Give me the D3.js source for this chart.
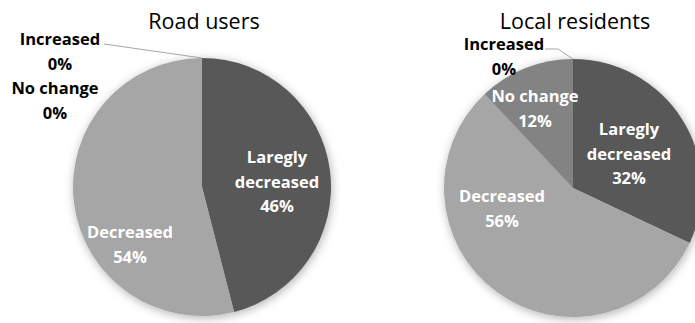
<!DOCTYPE html>
<html>
<head>
<meta charset="utf-8">
<script src="https://cdn.jsdelivr.net/npm/d3@7"></script>
<style>
  html, body { margin: 0; padding: 0; background: #fff; overflow: hidden; }
  svg { display: block; }
</style>
</head>
<body>
<svg id="chart" width="695" height="323"></svg>
<script>
// ---- data ----
const categories = ["Laregly decreased", "Decreased", "No change", "Increased"];
const chartTitles = ["Road users", "Local residents"];
const roadUsers = [46, 54, 0, 0];
const localResidents = [32, 56, 12, 0];
const seriesValues = [roadUsers, localResidents];
const colors = ["#595959", "#a6a6a6", "#838383", "#c8c8c8"];

// ---- layout (positions, not data) ----
const W = 695, H = 323;
const R = 129;
const centers = [[202, 187], [573, 188]];
const titleY = 20;
const lineH = 24.5;
// label block centres relative to pie centre, text fill, leader line
const labelLayout = [
  [ // Road users
    { dx: 75,  dy: -6,  fill: "#fff" },
    { dx: -72, dy: 57,  fill: "#fff" },
    { dx: -147, dy: -87, fill: "#000" },
    { dx: -142, dy: -136, fill: "#000", leader: [[-98, -143], [0, -129]] }
  ],
  [ // Local residents
    { dx: 56,  dy: -35, fill: "#fff" },
    { dx: -71, dy: 20,  fill: "#fff" },
    { dx: -38, dy: -80, fill: "#fff" },
    { dx: -69, dy: -132, fill: "#000", leader: [[-28, -139], [-15, -139], [0, -129]] }
  ]
];

const svg = d3.select("#chart");
const defs = svg.append("defs");
const f = defs.append("filter").attr("id", "glow")
  .attr("x", "-20%").attr("y", "-20%").attr("width", "140%").attr("height", "140%");
f.append("feDropShadow").attr("dx", 1).attr("dy", 2)
  .attr("stdDeviation", 5).attr("flood-color", "#000").attr("flood-opacity", 0.3);

const pie = d3.pie().sort(null).value(d => d);
const arc = d3.arc().innerRadius(0).outerRadius(R);

seriesValues.forEach((vals, i) => {
  const [cx, cy] = centers[i];
  const g = svg.append("g").attr("transform", `translate(${cx},${cy})`);

  const slices = g.append("g").attr("filter", "url(#glow)");
  slices.selectAll("path")
    .data(pie(vals))
    .join("path")
    .attr("d", arc)
    .attr("fill", (d, j) => colors[j]);

  svg.append("text")
    .attr("x", cx + 2).attr("y", titleY)
    .attr("text-anchor", "middle")
    .attr("dominant-baseline", "central")
    .attr("font-family", "'Open Sans', sans-serif")
    .attr("font-size", 21.5)
    .attr("fill", "#000")
    .text(chartTitles[i]);

  vals.forEach((v, j) => {
    const L = labelLayout[i][j];
    if (L.leader) {
      g.append("path")
        .attr("d", d3.line()(L.leader))
        .attr("fill", "none")
        .attr("stroke", "#a6a6a6")
        .attr("stroke-width", 1);
    }
    let lines = categories[j] === "Laregly decreased" ? categories[j].split(" ") : [categories[j]];
    lines = lines.concat([v + "%"]);
    const t = g.append("text")
      .attr("text-anchor", "middle")
      .attr("font-family", "'Open Sans', sans-serif")
      .attr("font-weight", "bold")
      .attr("font-size", 16.5)
      .attr("fill", L.fill);
    const y0 = L.dy - (lines.length - 1) * lineH / 2;
    lines.forEach((s, k) => {
      t.append("tspan")
        .attr("x", L.dx)
        .attr("y", y0 + k * lineH)
        .attr("dominant-baseline", "central")
        .text(s);
    });
  });
});
</script>
</body>
</html>
